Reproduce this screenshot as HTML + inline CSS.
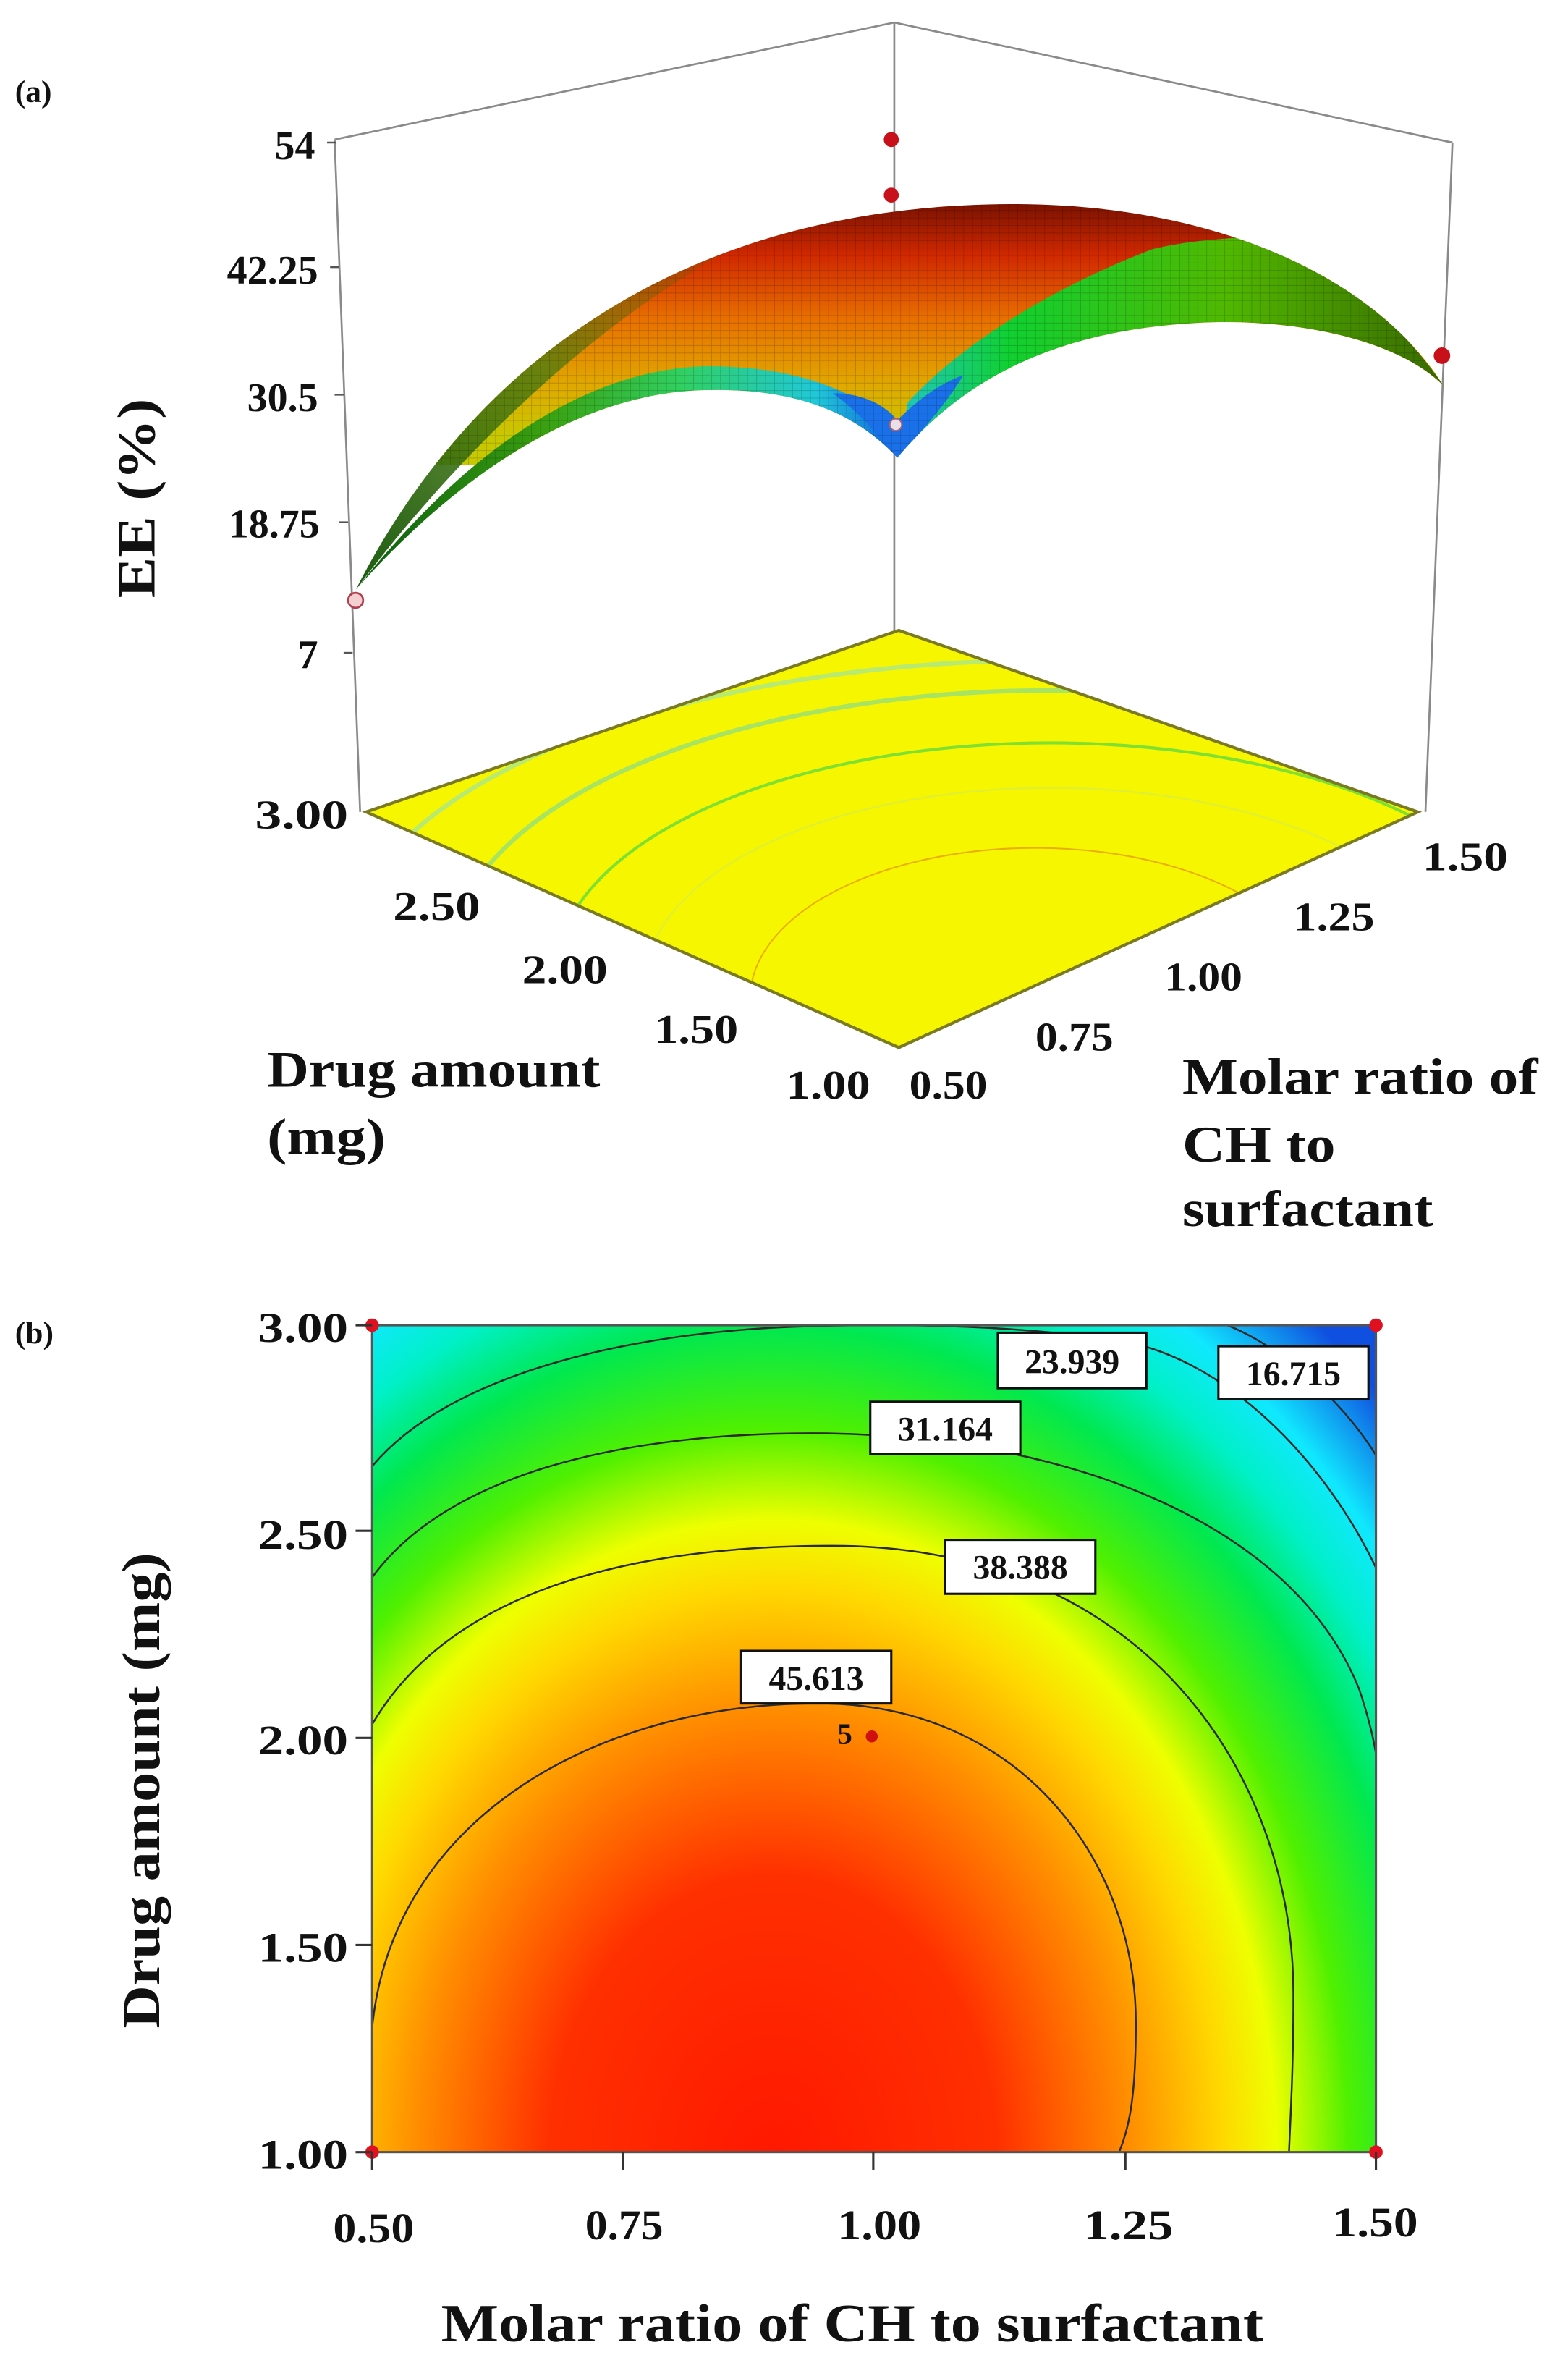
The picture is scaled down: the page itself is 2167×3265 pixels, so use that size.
<!DOCTYPE html>
<html><head><meta charset="utf-8"><style>
html,body{margin:0;padding:0;background:#fff;}
svg{display:block;}
text{font-family:"Liberation Serif",serif;font-weight:bold;fill:#111;}
</style></head><body>
<svg width="2167" height="3265" viewBox="0 0 1045 1574.5" xmlns="http://www.w3.org/2000/svg">
<defs>
  <linearGradient id="surfBase" x1="0" y1="136" x2="0" y2="290" gradientUnits="userSpaceOnUse">
    <stop offset="0" stop-color="#7a1200"/>
    <stop offset="0.22" stop-color="#d02800"/>
    <stop offset="0.5" stop-color="#e87000"/>
    <stop offset="0.78" stop-color="#e0a800"/>
    <stop offset="1" stop-color="#c8c800"/>
  </linearGradient>
  <linearGradient id="rightG" x1="600" y1="0" x2="962" y2="0" gradientUnits="userSpaceOnUse">
    <stop offset="0" stop-color="#20c8c0"/>
    <stop offset="0.2" stop-color="#10d030"/>
    <stop offset="0.6" stop-color="#50b800"/>
    <stop offset="1" stop-color="#3a6a00"/>
  </linearGradient>
  <linearGradient id="leftG" x1="237" y1="0" x2="598" y2="0" gradientUnits="userSpaceOnUse">
    <stop offset="0" stop-color="#0a5a10"/>
    <stop offset="0.35" stop-color="#3aa010"/>
    <stop offset="0.6" stop-color="#30d060"/>
    <stop offset="0.85" stop-color="#20c8d8"/>
    <stop offset="1" stop-color="#1060e0"/>
  </linearGradient>
  <linearGradient id="stripG" x1="237" y1="393" x2="520" y2="150" gradientUnits="userSpaceOnUse">
    <stop offset="0" stop-color="#1a5a10" stop-opacity="1"/>
    <stop offset="0.5" stop-color="#4a7a10" stop-opacity="0.8"/>
    <stop offset="1" stop-color="#7a4a00" stop-opacity="0"/>
  </linearGradient>
  <pattern id="mesh" width="6" height="5" patternUnits="userSpaceOnUse">
    <path d="M0 0H6M0 0V5" stroke="#000" stroke-width="0.8" fill="none"/>
  </pattern>
  <radialGradient id="heat" gradientUnits="userSpaceOnUse" cx="515" cy="1440" r="600"
    gradientTransform="translate(515 1440) scale(1 1.27) translate(-515 -1440)">
    <stop offset="0" stop-color="#ff1800"/>
    <stop offset="0.25" stop-color="#ff3000"/>
    <stop offset="0.4" stop-color="#ff9000"/>
    <stop offset="0.5" stop-color="#ffd800"/>
    <stop offset="0.56" stop-color="#eeff00"/>
    <stop offset="0.64" stop-color="#50f000"/>
    <stop offset="0.73" stop-color="#00e850"/>
    <stop offset="0.8" stop-color="#00f0c8"/>
    <stop offset="0.86" stop-color="#10e8ff"/>
    <stop offset="0.95" stop-color="#1050e0"/>
  </radialGradient>
  <clipPath id="plotClip"><rect x="248" y="883" width="669" height="551"/></clipPath>
  <clipPath id="floorClip"><polygon points="599,420 244,541 599,698 945,541"/></clipPath>
  <clipPath id="surfClip"><path d="M237,393 C320,230 470,135 679,136 C820,137 920,190 962,257 C930,225 860,212 800,215 C700,220 640,255 598,305 C570,275 530,258 468,260 C400,262 320,300 237,393 Z"/></clipPath>
</defs>

<text x="10" y="68" font-size="21">(a)</text>

<g stroke="#8a8a8a" stroke-width="1.3" fill="none">
  <polyline points="223,93 596,15 968,95"/>
  <line x1="596" y1="15" x2="596" y2="420"/>
  <line x1="223" y1="93" x2="240" y2="541"/>
  <line x1="968" y1="95" x2="950" y2="541"/>
</g>
<g stroke="#555" stroke-width="1.2">
  <line x1="218" y1="95" x2="224" y2="95"/>
  <line x1="220" y1="178" x2="226" y2="178"/>
  <line x1="223" y1="263" x2="229" y2="263"/>
  <line x1="226" y1="348" x2="232" y2="348"/>
  <line x1="229" y1="435" x2="235" y2="435"/>
</g>
<g font-size="27" text-anchor="end">
  <text x="210" y="106">54</text>
  <text x="212" y="189">42.25</text>
  <text x="212" y="274">30.5</text>
  <text x="213" y="358">18.75</text>
  <text x="212" y="445">7</text>
</g>
<text transform="translate(103 332) rotate(-90)" font-size="36" text-anchor="middle" textLength="133" lengthAdjust="spacingAndGlyphs">EE (%)</text>

<polygon points="599,420 244,541 599,698 945,541" fill="#f6f600"/>
<g clip-path="url(#floorClip)" fill="none">
  <ellipse cx="700" cy="640" rx="470" ry="200" stroke="#b8ea70" stroke-width="3"/>
  <ellipse cx="700" cy="640" rx="400" ry="180" stroke="#a8e460" stroke-width="3"/>
  <ellipse cx="700" cy="650" rx="330" ry="155" stroke="#80e030" stroke-width="2"/>
  <ellipse cx="700" cy="655" rx="270" ry="130" stroke="#e0f030" stroke-width="1.2"/>
  <ellipse cx="690" cy="665" rx="190" ry="100" stroke="#e8b000" stroke-width="1"/>
</g>
<polygon points="599,420 244,541 599,698 945,541" fill="none" stroke="#7a7a20" stroke-width="2"/>

<g clip-path="url(#surfClip)">
  <rect x="230" y="130" width="740" height="180" fill="url(#surfBase)"/>
  <path d="M237,393 C320,230 430,165 540,142 C440,180 330,270 237,393 Z" fill="url(#stripG)"/>
  <path d="M598,305 C640,255 700,220 800,215 C860,212 930,225 962,257 C930,210 880,170 830,158 C800,160 785,162 768,166 C700,192 640,230 605,268 Z" fill="url(#rightG)"/>
  <path d="M237,393 C320,300 400,262 468,260 C530,258 570,275 598,305 L600,284 C560,254 520,244 470,244 C400,246 320,288 237,393 Z" fill="url(#leftG)"/>
  <path d="M555,262 C575,262 590,270 598,280 C610,268 625,256 642,250 C630,270 612,290 598,305 C585,290 572,274 555,262 Z" fill="#1a70e8"/>
  <rect x="230" y="130" width="740" height="180" fill="url(#mesh)" opacity="0.2"/>
</g>

<circle cx="594" cy="93" r="5" fill="#c8101a"/>
<circle cx="594" cy="130" r="5" fill="#c8101a"/>
<circle cx="961" cy="237" r="5.5" fill="#c8101a"/>
<circle cx="237" cy="400" r="5" fill="#f4d0d0" stroke="#b04050" stroke-width="1.3"/>
<circle cx="597" cy="283" r="4" fill="#e8e0e8" stroke="#b06070" stroke-width="1"/>

<g font-size="27">
  <text x="170" y="552" textLength="62" lengthAdjust="spacingAndGlyphs">3.00</text>
  <text x="262" y="613" textLength="58" lengthAdjust="spacingAndGlyphs">2.50</text>
  <text x="348" y="655" textLength="57" lengthAdjust="spacingAndGlyphs">2.00</text>
  <text x="436" y="695" textLength="56" lengthAdjust="spacingAndGlyphs">1.50</text>
  <text x="524" y="732" textLength="56" lengthAdjust="spacingAndGlyphs">1.00</text>
  <text x="606" y="732" textLength="52" lengthAdjust="spacingAndGlyphs">0.50</text>
  <text x="690" y="700" textLength="52" lengthAdjust="spacingAndGlyphs">0.75</text>
  <text x="776" y="660" textLength="52" lengthAdjust="spacingAndGlyphs">1.00</text>
  <text x="862" y="620" textLength="54" lengthAdjust="spacingAndGlyphs">1.25</text>
  <text x="948" y="580" textLength="57" lengthAdjust="spacingAndGlyphs">1.50</text>
</g>
<g font-size="34">
  <text x="178" y="724" textLength="222" lengthAdjust="spacingAndGlyphs">Drug amount</text>
  <text x="178" y="769" textLength="79" lengthAdjust="spacingAndGlyphs">(mg)</text>
  <text x="788" y="729" textLength="237" lengthAdjust="spacingAndGlyphs">Molar ratio of</text>
  <text x="788" y="774" textLength="102" lengthAdjust="spacingAndGlyphs">CH to</text>
  <text x="788" y="817" textLength="167" lengthAdjust="spacingAndGlyphs">surfactant</text>
</g>

<text x="10" y="895" font-size="21">(b)</text>
<rect x="248" y="883" width="669" height="551" fill="url(#heat)"/>
<g clip-path="url(#plotClip)" fill="none" stroke="#2a2a2a" stroke-width="1.2">
  <path d="M248,1351 C262,1210 400,1135 545,1135 C680,1135 757,1240 757,1348 C757,1400 752,1420 745,1436"/>
  <path d="M248,1149 C300,1060 420,1030 555,1030 C760,1030 862,1180 862,1329 C862,1380 860,1410 859,1436"/>
  <path d="M248,1051 C300,980 420,955 541,955 C700,955 860,1010 906,1126 C914,1150 918,1170 919,1185"/>
  <path d="M248,977 C300,915 420,888 530,884 C640,880 720,888 759,896 C830,915 890,985 919,1049"/>
  <path d="M818,883 C860,900 900,940 919,973"/>
</g>
<rect x="248" y="883" width="669" height="551" fill="none" stroke="#555" stroke-width="1.5"/>
<g font-size="23" text-anchor="middle">
  <rect x="665" y="888" width="99" height="37" fill="#fff" stroke="#111" stroke-width="1.5"/>
  <text x="714.5" y="915">23.939</text>
  <rect x="812" y="897" width="100" height="35" fill="#fff" stroke="#111" stroke-width="1.5"/>
  <text x="862" y="923">16.715</text>
  <rect x="580" y="934" width="100" height="35" fill="#fff" stroke="#111" stroke-width="1.5"/>
  <text x="630" y="960">31.164</text>
  <rect x="630" y="1026" width="100" height="36" fill="#fff" stroke="#111" stroke-width="1.5"/>
  <text x="680" y="1052">38.388</text>
  <rect x="494" y="1100" width="100" height="35" fill="#fff" stroke="#111" stroke-width="1.5"/>
  <text x="544" y="1126">45.613</text>
</g>
<text x="558" y="1162" font-size="20" fill="#8a1010">5</text>
<circle cx="581" cy="1157" r="4" fill="#d01010"/>
<g fill="#e01020">
  <circle cx="248" cy="883" r="4.5"/><circle cx="917" cy="883" r="4.5"/>
  <circle cx="248" cy="1434" r="4.5"/><circle cx="917" cy="1434" r="4.5"/>
</g>
<g stroke="#333" stroke-width="1.5">
  <line x1="237" y1="883" x2="248" y2="883"/>
  <line x1="237" y1="1020" x2="248" y2="1020"/>
  <line x1="237" y1="1158" x2="248" y2="1158"/>
  <line x1="237" y1="1296" x2="248" y2="1296"/>
  <line x1="237" y1="1434" x2="248" y2="1434"/>
  <line x1="248" y1="1434" x2="248" y2="1446"/>
  <line x1="415" y1="1434" x2="415" y2="1446"/>
  <line x1="582" y1="1434" x2="582" y2="1446"/>
  <line x1="750" y1="1434" x2="750" y2="1446"/>
  <line x1="917" y1="1434" x2="917" y2="1446"/>
</g>
<g font-size="28" text-anchor="end">
  <text x="232" y="894" textLength="60" lengthAdjust="spacingAndGlyphs">3.00</text>
  <text x="232" y="1032" textLength="60" lengthAdjust="spacingAndGlyphs">2.50</text>
  <text x="232" y="1169" textLength="60" lengthAdjust="spacingAndGlyphs">2.00</text>
  <text x="232" y="1307" textLength="60" lengthAdjust="spacingAndGlyphs">1.50</text>
  <text x="232" y="1445" textLength="60" lengthAdjust="spacingAndGlyphs">1.00</text>
</g>
<g font-size="28">
  <text x="222" y="1494" textLength="54" lengthAdjust="spacingAndGlyphs">0.50</text>
  <text x="390" y="1492" textLength="52" lengthAdjust="spacingAndGlyphs">0.75</text>
  <text x="558" y="1492" textLength="56" lengthAdjust="spacingAndGlyphs">1.00</text>
  <text x="722" y="1492" textLength="60" lengthAdjust="spacingAndGlyphs">1.25</text>
  <text x="888" y="1490" textLength="57" lengthAdjust="spacingAndGlyphs">1.50</text>
</g>
<text x="294" y="1560" font-size="36" textLength="548" lengthAdjust="spacingAndGlyphs">Molar ratio of CH to surfactant</text>
<text transform="translate(106 1193) rotate(-90)" font-size="36" text-anchor="middle" textLength="317" lengthAdjust="spacingAndGlyphs">Drug amount (mg)</text>
</svg>
</body></html>
